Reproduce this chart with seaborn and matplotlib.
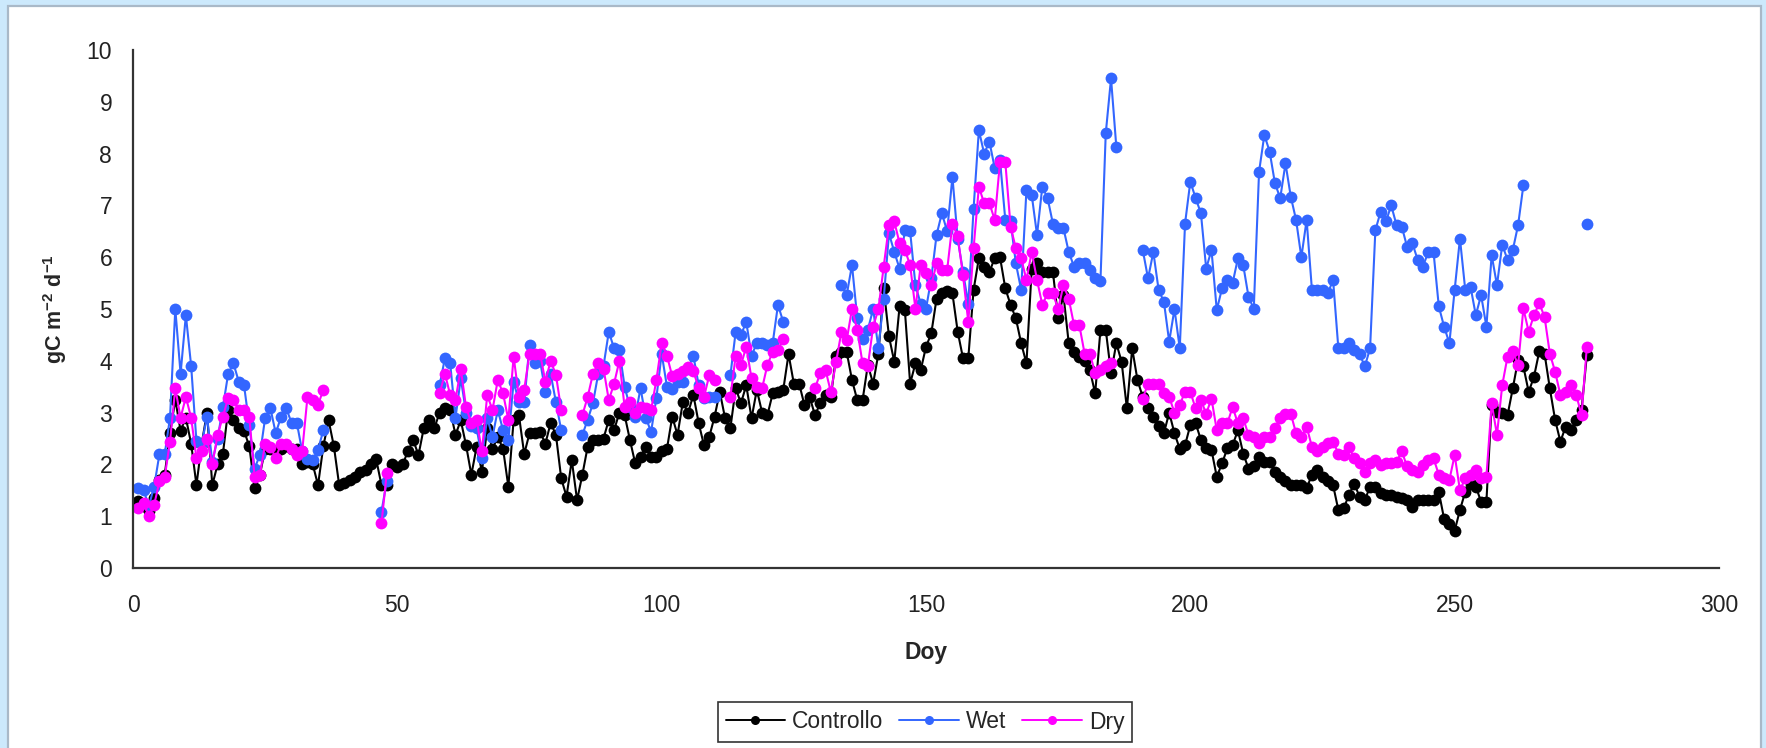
### Daily carbon flux, Controllo / Wet / Dry ###

import matplotlib
matplotlib.use("Agg")
import matplotlib.pyplot as plt
from matplotlib.lines import Line2D
from matplotlib.patches import Rectangle
import numpy as np
import pandas as pd
import seaborn as sns

nan = np.nan

# day of year, 1..275
doy = list(range(1, 276))

controllo = [
    1.30, 1.20, 1.10, 1.35, 1.70, 1.80, 2.60, 3.25, 2.65, 2.90,
    2.40, 1.60, 2.40, 3.00, 1.60, 2.00, 2.20, 3.05, 2.85, 2.70,
    2.65, 2.35, 1.55, 1.80, 2.30, 2.30, 2.25, 2.30, 2.35, 2.30,
    2.30, 2.00, 2.05, 2.00, 1.60, 2.35, 2.85, 2.35, 1.60, 1.65,
    1.70, 1.75, 1.85, 1.90, 2.00, 2.10, 1.60, 1.60, 2.00, 1.95,
    2.00, 2.25, 2.47, 2.18, 2.70, 2.86, 2.70, 3.00, 3.08, 3.05,
    2.57, 2.85, 2.37, 1.80, 2.34, 1.86, 2.70, 2.30, 2.53, 2.30,
    1.57, 2.86, 2.95, 2.20, 2.60, 2.60, 2.63, 2.40, 2.80, 2.57,
    1.73, 1.38, 2.08, 1.31, 1.80, 2.34, 2.47, 2.47, 2.50, 2.86,
    2.66, 3.00, 2.95, 2.47, 2.02, 2.15, 2.34, 2.15, 2.15, 2.25,
    2.30, 2.92, 2.57, 3.20, 3.00, 3.34, 2.80, 2.37, 2.53, 2.92,
    3.40, 2.89, 2.70, 3.47, 3.18, 3.53, 2.89, 3.44, 3.00, 2.95,
    3.37, 3.40, 3.44, 4.13, 3.56, 3.56, 3.15, 3.30, 2.95, 3.18,
    3.34, 3.30, 4.10, 4.17, 4.17, 3.63, 3.24, 3.24, 3.92, 3.56,
    4.14, 5.40, 4.47, 3.98, 5.05, 4.98, 3.56, 3.95, 3.82, 4.27,
    4.53, 5.20, 5.30, 5.35, 5.30, 4.56, 4.05, 4.05, 5.37, 5.98,
    5.82, 5.72, 5.98, 6.00, 5.40, 5.08, 4.82, 4.34, 3.95, 5.78,
    5.88, 5.72, 5.72, 5.72, 4.82, 5.27, 4.34, 4.17, 4.08, 4.00,
    3.82, 3.37, 4.60, 4.60, 3.76, 4.34, 3.98, 3.08, 4.24, 3.63,
    3.30, 3.08, 2.92, 2.75, 2.60, 3.00, 2.60, 2.30, 2.37, 2.76,
    2.80, 2.47, 2.31, 2.28, 1.76, 2.02, 2.31, 2.37, 2.66, 2.21,
    1.92, 1.96, 2.15, 2.05, 2.05, 1.86, 1.76, 1.67, 1.60, 1.60,
    1.60, 1.54, 1.80, 1.89, 1.76, 1.67, 1.60, 1.12, 1.15, 1.41,
    1.63, 1.38, 1.31, 1.57, 1.57, 1.44, 1.41, 1.41, 1.38, 1.35,
    1.31, 1.18, 1.31, 1.31, 1.31, 1.31, 1.47, 0.95, 0.85, 0.72,
    1.12, 1.47, 1.63, 1.57, 1.28, 1.28, 3.15, 3.02, 2.99, 2.95,
    3.47, 4.02, 3.89, 3.40, 3.69, 4.18, 4.14, 3.47, 2.86, 2.44,
    2.73, 2.66, 2.86, 3.05, 4.11,
]

wet = [
    1.55, 1.50, 1.20, 1.57, 2.20, 2.20, 2.90, 5.00, 3.75, 4.88,
    3.90, 2.45, 2.40, 2.92, 2.05, 2.50, 3.10, 3.75, 3.95, 3.60,
    3.53, 2.76, 1.92, 2.18, 2.90, 3.08, 2.60, 2.92, 3.08, 2.80,
    2.80, 2.25, 2.10, 2.08, 2.28, 2.66, nan, nan, nan, nan,
    nan, nan, nan, nan, nan, nan, 1.09, 1.67, nan, nan,
    nan, nan, nan, nan, nan, nan, nan, 3.53, 4.05, 3.95,
    2.90, 3.66, 3.00, 2.75, 2.70, 2.12, 2.90, 2.53, 3.05, 2.66,
    2.47, 3.60, 3.20, 3.20, 4.30, 3.95, 4.00, 3.40, 3.75, 3.20,
    2.66, nan, nan, nan, 2.57, 2.86, 3.18, 3.75, 3.90, 4.56,
    4.24, 4.20, 3.50, 3.10, 2.92, 3.47, 2.90, 2.63, 3.28, 4.14,
    3.50, 3.45, 3.60, 3.60, 3.85, 4.10, 3.53, 3.28, 3.30, 3.30,
    nan, nan, 3.72, 4.56, 4.50, 4.75, 4.10, 4.34, 4.34, 4.30,
    4.34, 5.08, 4.75, nan, nan, nan, nan, nan, nan, nan,
    nan, nan, nan, 5.46, 5.27, 5.85, 4.82, 4.43, 4.60, 5.00,
    4.24, 5.20, 6.46, 6.10, 5.78, 6.52, 6.50, 5.46, 5.10, 5.00,
    5.59, 6.43, 6.85, 6.50, 7.55, 6.35, 5.72, 5.10, 6.94, 8.45,
    8.00, 8.23, 7.72, 7.87, 6.72, 6.69, 5.88, 5.37, 7.30, 7.20,
    6.43, 7.36, 7.14, 6.65, 6.56, 6.56, 6.10, 5.82, 5.88, 5.88,
    5.75, 5.59, 5.55, 8.39, 9.45, 8.13, nan, nan, nan, nan,
    6.14, 5.59, 6.10, 5.37, 5.14, 4.37, 5.00, 4.24, 6.65, 7.46,
    7.14, 6.85, 5.78, 6.14, 4.98, 5.40, 5.56, 5.50, 5.98, 5.85,
    5.24, 5.00, 7.65, 8.36, 8.04, 7.43, 7.14, 7.81, 7.17, 6.72,
    6.00, 6.72, 5.37, 5.37, 5.37, 5.30, 5.56, 4.24, 4.24, 4.34,
    4.20, 4.14, 3.89, 4.24, 6.52, 6.88, 6.69, 7.00, 6.62, 6.59,
    6.20, 6.27, 5.95, 5.82, 6.10, 6.10, 5.05, 4.66, 4.34, 5.37,
    6.36, 5.37, 5.43, 4.88, 5.27, 4.66, 6.04, 5.46, 6.24, 5.95,
    6.14, 6.62, 7.39, nan, nan, nan, nan, nan, nan, nan,
    nan, nan, nan, nan, 6.65,
]

dry = [
    1.15, 1.25, 1.00, 1.22, 1.67, 1.76, 2.44, 3.47, 2.90, 3.30,
    2.90, 2.12, 2.25, 2.50, 2.00, 2.57, 2.92, 3.28, 3.25, 3.05,
    3.05, 2.92, 1.76, 1.80, 2.40, 2.34, 2.12, 2.40, 2.40, 2.30,
    2.18, 2.25, 3.30, 3.25, 3.15, 3.44, nan, nan, nan, nan,
    nan, nan, nan, nan, nan, nan, 0.86, 1.83, nan, nan,
    nan, nan, nan, nan, nan, nan, nan, 3.37, 3.75, 3.34,
    3.24, 3.85, 3.10, 2.80, 2.86, 2.25, 3.34, 3.05, 3.63, 3.37,
    2.86, 4.08, 3.30, 3.44, 4.14, 4.14, 4.14, 3.60, 4.00, 3.73,
    3.05, nan, nan, nan, 2.95, 3.30, 3.75, 3.95, 3.85, 3.24,
    3.56, 4.00, 3.10, 3.20, 3.00, 3.10, 3.08, 3.05, 3.63, 4.34,
    4.10, 3.70, 3.75, 3.80, 3.88, 3.80, 3.47, 3.30, 3.72, 3.63,
    nan, nan, 3.30, 4.10, 3.92, 4.27, 3.66, 3.50, 3.47, 3.92,
    4.17, 4.20, 4.43, nan, nan, nan, nan, nan, 3.47, 3.76,
    3.82, 3.40, 3.98, 4.56, 4.40, 5.00, 4.60, 3.95, 3.90, 4.66,
    5.00, 5.82, 6.62, 6.69, 6.27, 6.14, 5.85, 5.00, 5.85, 5.70,
    5.46, 5.88, 5.75, 5.75, 6.65, 6.40, 5.65, 4.75, 6.17, 7.36,
    7.04, 7.04, 6.72, 7.84, 7.84, 6.59, 6.17, 5.98, 5.56, 6.10,
    5.56, 5.08, 5.30, 5.30, 5.00, 5.46, 5.20, 4.69, 4.69, 4.14,
    4.14, 3.76, 3.82, 3.89, 3.95, nan, nan, nan, nan, nan,
    3.27, 3.56, 3.56, 3.56, 3.37, 3.30, 3.00, 3.15, 3.40, 3.40,
    3.08, 3.24, 2.98, 3.27, 2.66, 2.79, 2.79, 3.11, 2.79, 2.89,
    2.57, 2.53, 2.41, 2.53, 2.53, 2.70, 2.89, 2.98, 2.98, 2.60,
    2.53, 2.73, 2.34, 2.25, 2.34, 2.41, 2.44, 2.21, 2.18, 2.34,
    2.12, 2.02, 1.86, 2.02, 2.08, 1.99, 2.02, 2.02, 2.05, 2.25,
    1.96, 1.89, 1.86, 1.99, 2.08, 2.12, 1.80, 1.73, 1.70, 2.18,
    1.50, 1.73, 1.80, 1.89, 1.73, 1.76, 3.18, 2.57, 3.53, 4.08,
    4.18, 3.92, 5.01, 4.56, 4.88, 5.11, 4.85, 4.14, 3.79, 3.34,
    3.40, 3.53, 3.34, 2.95, 4.27,
]

series_names = ["Controllo", "Wet", "Dry"]
series_colors = ["#000000", "#3366ff", "#ff00ff"]
x_ticks = [0, 50, 100, 150, 200, 250, 300]
y_ticks = list(range(0, 11))


def to_long(name, values):
    """long table, one run id per unbroken stretch so gaps stay open"""
    rows = []
    run = 0
    broken = True
    for d, v in zip(doy, values):
        if np.isnan(v):
            broken = True
            continue
        if broken:
            run += 1
            broken = False
        rows.append({"Doy": d, "val": v, "serie": name, "run": "%s_%d" % (name, run)})
    return pd.DataFrame(rows)


sns.set_style("white")
plt.rcParams["font.family"] = ["Liberation Sans", "DejaVu Sans"]
plt.rcParams["mathtext.fontset"] = "custom"
plt.rcParams["mathtext.rm"] = "Liberation Sans:bold"
plt.rcParams["mathtext.default"] = "rm"

W, H = 1766, 748
fig = plt.figure(figsize=(W / 100, H / 100), dpi=100)
fig.patch.set_facecolor("#cce9fc")
panel = Rectangle((8 / W, -0.01), 1753 / W, 1.01 - 6 / H, transform=fig.transFigure,
                  facecolor="white", edgecolor="#a9b9c8", linewidth=1.6, zorder=-10)
fig.patches.append(panel)

ax = fig.add_axes([133 / W, 1 - 568 / H, (1719 - 133) / W, (568 - 50) / H])
ax.set_facecolor("none")
ax.set_zorder(1)

for name, vals, col in zip(series_names, [controllo, wet, dry], series_colors):
    df = to_long(name, vals)
    sns.lineplot(data=df, x="Doy", y="val", units="run", estimator=None, sort=False,
                 color=col, linewidth=1.5, marker="o", markersize=8.5,
                 markeredgewidth=0, legend=False, ax=ax)

ax.set_xlim(0, 300)
ax.set_ylim(0, 10)
ax.set_xticks(x_ticks)
ax.set_yticks(y_ticks)
ax.set_xlabel("")
ax.set_ylabel("")
sns.despine(ax=ax)
for side in ["left", "bottom"]:
    ax.spines[side].set_color("#333333")
    ax.spines[side].set_linewidth(1.6)
ax.tick_params(axis="both", direction="out", length=6, width=1.4, color="#333333",
               labelsize=16.5, labelcolor="#222222")
ax.tick_params(axis="x", pad=13)
ax.tick_params(axis="y", pad=9)

fig.text(926 / W, 1 - 653 / H, "Doy", ha="center", va="center", fontsize=16.5, fontweight="bold")
fig.text(55 / W, 1 - 309 / H, r"gC m$^{-2}$ d$^{-1}$", ha="center", va="center",
         rotation=90, fontsize=15.5, fontweight="bold")

handles = [Line2D([], [], color=c, lw=1.4, marker="o", markersize=6.5, markeredgewidth=0)
           for c in series_colors]
leg = fig.legend(handles, series_names, loc="center", bbox_to_anchor=(925 / W, 1 - 722 / H),
                 ncol=3, fontsize=16.5, frameon=True, fancybox=False, edgecolor="black",
                 handlelength=2.6, handletextpad=0.3, columnspacing=0.7, borderpad=0.35)
leg.get_frame().set_linewidth(1.2)

plt.savefig("out.png", dpi=100, facecolor=fig.get_facecolor())
